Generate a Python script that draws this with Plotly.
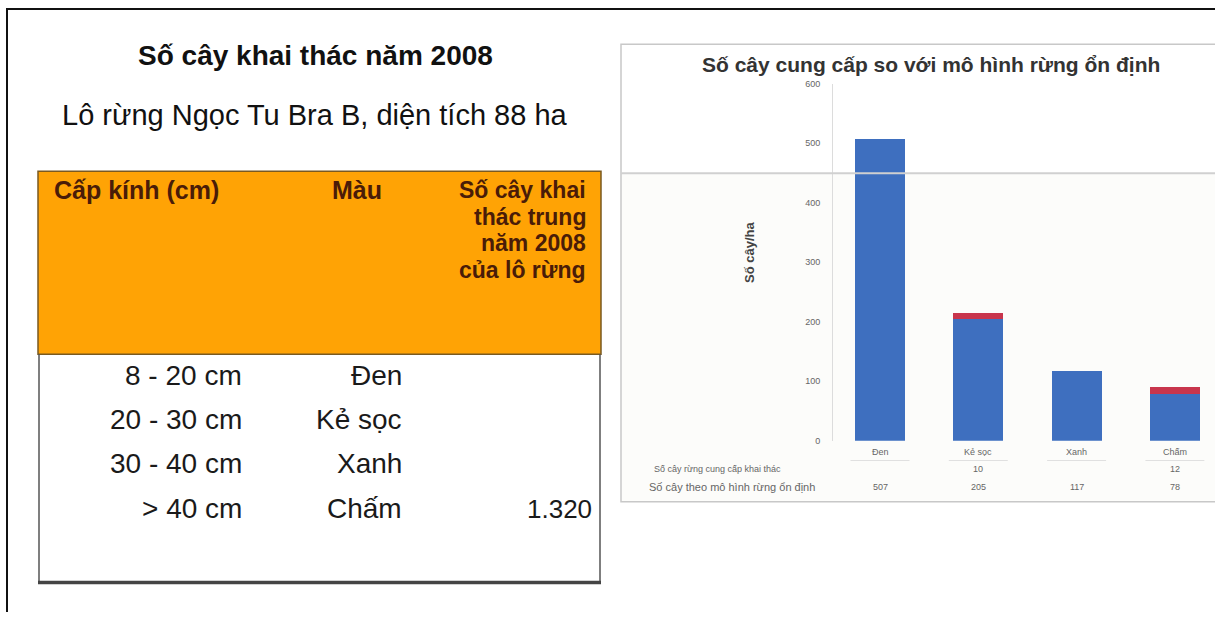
import plotly.graph_objects as go

W, H = 1215, 617

# ---------------- data ----------------
table_title = "Số cây khai thác năm 2008"
table_subtitle = "Lô rừng Ngọc Tu Bra B, diện tích 88 ha"
header_col1 = "Cấp kính (cm)"
header_col2 = "Màu"
header_col3_lines = ["Số cây khai", "thác trung", "năm 2008", "của lô rừng"]
diameter_classes = ["8 - 20 cm", "20 - 30 cm", "30 - 40 cm", "> 40 cm"]
colour_names = ["Đen", "Kẻ sọc", "Xanh", "Chấm"]
harvest_counts = ["", "", "", "1.320"]

chart_title = "Số cây cung cấp so với mô hình rừng ổn định"
categories = ["Đen", "Kẻ sọc", "Xanh", "Chấm"]
model_stable = [507, 205, 117, 78]       # blue
excess_supply = [0, 10, 0, 12]            # red
row_excess_label = "Số cây rừng cung cấp khai thác"
row_model_label = "Số cây theo mô hình rừng ổn định"
y_ticks = [0, 100, 200, 300, 400, 500, 600]

BLUE = "#3E6FBF"
RED = "#C8354C"
ORANGE = "#FFA305"
FONT = "Liberation Sans, Arial, sans-serif"


def px(x):
    return x / W


def py(y):
    return 1 - y / H


fig = go.Figure()

fig.add_trace(go.Bar(x=categories, y=model_stable, name=row_model_label,
                     marker=dict(color=BLUE, line=dict(width=0)),
                     xaxis="x", yaxis="y", showlegend=False))
fig.add_trace(go.Bar(x=categories, y=excess_supply, name=row_excess_label,
                     marker=dict(color=RED, line=dict(width=0)),
                     xaxis="x", yaxis="y", showlegend=False))

shapes = []
ann = []

# slide frame
shapes.append(dict(type="line", xref="paper", yref="paper", x0=px(6), x1=px(1215), y0=py(4), y1=py(4),
                   line=dict(color="#111", width=2)))
shapes.append(dict(type="line", xref="paper", yref="paper", x0=px(7), x1=px(7), y0=py(4), y1=py(617),
                   line=dict(color="#111", width=2)))

# ---- left table ----
ann.append(dict(text="<b>%s</b>" % table_title, x=px(315), y=py(51), xref="paper", yref="paper",
                showarrow=False, font=dict(family=FONT, size=28, color="#111"), xanchor="center", yanchor="middle"))
ann.append(dict(text=table_subtitle, x=px(315), y=py(112), xref="paper", yref="paper",
                showarrow=False, font=dict(family=FONT, size=29, color="#111"), xanchor="center", yanchor="middle"))

shapes.append(dict(type="rect", xref="paper", yref="paper", x0=px(38), x1=px(601), y0=py(169), y1=py(355),
                   fillcolor=ORANGE, line=dict(color="#7a5a20", width=1.5), layer="below"))
shapes.append(dict(type="line", xref="paper", yref="paper", x0=px(39), x1=px(39), y0=py(355), y1=py(587),
                   line=dict(color="#555", width=1.5)))
shapes.append(dict(type="line", xref="paper", yref="paper", x0=px(600), x1=px(600), y0=py(355), y1=py(587),
                   line=dict(color="#555", width=1.5)))
shapes.append(dict(type="line", xref="paper", yref="paper", x0=px(38), x1=px(601), y0=py(587), y1=py(587),
                   line=dict(color="#444", width=3.5)))

HDR = "#4a1c08"
hdr_y = [188, 215, 242, 269]
ann.append(dict(text="<b>%s</b>" % header_col1, x=px(52), y=py(hdr_y[0]), xref="paper", yref="paper",
                showarrow=False, font=dict(family=FONT, size=25, color=HDR), xanchor="left", yanchor="middle"))
ann.append(dict(text="<b>%s</b>" % header_col2, x=px(384), y=py(hdr_y[0]), xref="paper", yref="paper",
                showarrow=False, font=dict(family=FONT, size=25, color=HDR), xanchor="right", yanchor="middle"))
for k, line in enumerate(header_col3_lines):
    ann.append(dict(text="<b>%s</b>" % line, x=px(588), y=py(hdr_y[k]), xref="paper", yref="paper",
                    showarrow=False, font=dict(family=FONT, size=23, color=HDR), xanchor="right", yanchor="middle",
                    height=26, valign="middle"))

row_y = [377, 421, 466, 512]
for i in range(len(diameter_classes)):
    ann.append(dict(text=diameter_classes[i], x=px(244), y=py(row_y[i]), xref="paper", yref="paper",
                    showarrow=False, font=dict(family=FONT, size=28, color="#1a1a1a"), xanchor="right", yanchor="middle"))
    ann.append(dict(text=colour_names[i], x=px(404), y=py(row_y[i]), xref="paper", yref="paper",
                    showarrow=False, font=dict(family=FONT, size=28, color="#1a1a1a"), xanchor="right", yanchor="middle"))
    if harvest_counts[i]:
        ann.append(dict(text=harvest_counts[i], x=px(594), y=py(row_y[i]), xref="paper", yref="paper",
                        showarrow=False, font=dict(family=FONT, size=26, color="#1a1a1a"), xanchor="right", yanchor="middle"))

# ---- right chart ----
shapes.append(dict(type="rect", xref="paper", yref="paper", x0=px(621), x1=px(1216), y0=py(40), y1=py(505),
                   fillcolor="rgba(0,0,0,0)", line=dict(color="#c8c8c8", width=1.5), layer="below"))
shapes.append(dict(type="line", xref="paper", yref="paper", x0=px(621), x1=px(1215), y0=py(171), y1=py(171),
                   line=dict(color="#d0d0d0", width=2)))
shapes.append(dict(type="rect", xref="paper", yref="paper", x0=px(622), x1=px(1215), y0=py(172), y1=py(504),
                   fillcolor="#fcfcfa", line=dict(width=0), layer="below"))

ann.append(dict(text="<b>%s</b>" % chart_title, x=px(931), y=py(60), xref="paper", yref="paper",
                showarrow=False, font=dict(family=FONT, size=21, color="#333"), xanchor="center", yanchor="middle"))
ann.append(dict(text="<b>Số cây/ha</b>", x=px(750), y=py(252), xref="paper", yref="paper", textangle=-90,
                showarrow=False, font=dict(family=FONT, size=13, color="#444"), xanchor="center", yanchor="middle"))

# data table rows under the chart
ann.append(dict(text=row_excess_label, x=px(652), y=py(472), xref="paper", yref="paper",
                showarrow=False, font=dict(family=FONT, size=9, color="#666"), xanchor="left", yanchor="middle"))
ann.append(dict(text=row_model_label, x=px(647), y=py(490), xref="paper", yref="paper",
                showarrow=False, font=dict(family=FONT, size=11, color="#666"), xanchor="left", yanchor="middle"))
for i, c in enumerate(categories):
    ann.append(dict(text=c, x=c, y=py(454), xref="x", yref="paper", showarrow=False,
                    font=dict(family=FONT, size=9, color="#666"), xanchor="center", yanchor="middle"))
    if excess_supply[i]:
        ann.append(dict(text=str(excess_supply[i]), x=c, y=py(472), xref="x", yref="paper", showarrow=False,
                        font=dict(family=FONT, size=9, color="#666"), xanchor="center", yanchor="middle"))
    ann.append(dict(text=str(model_stable[i]), x=c, y=py(490), xref="x", yref="paper", showarrow=False,
                    font=dict(family=FONT, size=9, color="#666"), xanchor="center", yanchor="middle"))
    shapes.append(dict(type="line", xref="x", yref="paper", x0=i - 0.3, x1=i + 0.3, y0=py(463), y1=py(463),
                       line=dict(color="#e0e0e0", width=1)))

n = len(categories)
left_cat = 880
step = 98.3
x_lo = -(left_cat - 833) / step
x_hi = (n - 1) + (1215 - (left_cat + step * (n - 1))) / step

fig.update_layout(
    width=W, height=H,
    margin=dict(l=0, r=0, t=0, b=0),
    paper_bgcolor="white", plot_bgcolor="rgba(0,0,0,0)",
    barmode="stack", bargap=0.49,
    xaxis=dict(domain=[px(833), 1.0], range=[x_lo, x_hi], showticklabels=False, showgrid=False,
               zeroline=False, showline=False, ticks=""),
    yaxis=dict(domain=[py(443), py(80)], range=[0, 600], tickvals=y_ticks, showgrid=False, zeroline=False,
               showline=True, linecolor="#dcdcdc", linewidth=1, ticks="", ticklen=0,
               tickfont=dict(family=FONT, size=9, color="#666"), ticklabelstandoff=10),
    shapes=shapes, annotations=ann,
    font=dict(family=FONT),
)

fig.write_html("out.html", config={"displayModeBar": False},
               post_script=("document.documentElement.style.overflow='hidden';"
                            "document.body.style.margin='0px';document.body.style.overflow='hidden';"
                            "document.body.style.height='617px';"))
